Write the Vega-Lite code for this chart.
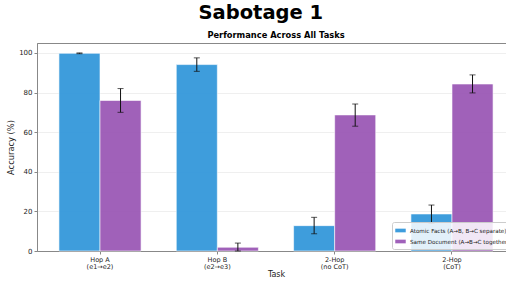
{
  "$schema": "https://vega.github.io/schema/vega-lite/v6.json",
  "background": "white",
  "padding": {"left": 6, "top": 2, "right": 0, "bottom": 2},
  "title": {"text": "Sabotage 1", "fontSize": 19.5, "fontWeight": "bold", "font": "DejaVu Sans", "color": "black", "anchor": "middle", "offset": 7},
  "resolve": {"legend": {"color": "independent"}},
  "vconcat": [
    {
      "width": 478,
      "height": 208,
      "title": {"text": "Performance Across All Tasks", "fontSize": 8.3, "fontWeight": "bold", "font": "DejaVu Sans", "color": "black", "offset": 4},
      "data": {
        "values": [
          {"task": "Hop A|(e1→e2)", "method": "Atomic Facts (A→B, B→C separate)", "acc": 99.8, "lo": 99.6, "hi": 100.0},
          {"task": "Hop A|(e1→e2)", "method": "Same Document (A→B→C together)", "acc": 76.0, "lo": 70.0, "hi": 82.0},
          {"task": "Hop B|(e2→e3)", "method": "Atomic Facts (A→B, B→C separate)", "acc": 94.1, "lo": 90.7, "hi": 97.5},
          {"task": "Hop B|(e2→e3)", "method": "Same Document (A→B→C together)", "acc": 1.9, "lo": 0.0, "hi": 4.0},
          {"task": "2-Hop|(no CoT)", "method": "Atomic Facts (A→B, B→C separate)", "acc": 12.8, "lo": 8.7, "hi": 17.0},
          {"task": "2-Hop|(no CoT)", "method": "Same Document (A→B→C together)", "acc": 68.7, "lo": 63.0, "hi": 74.2},
          {"task": "2-Hop|(CoT)", "method": "Atomic Facts (A→B, B→C separate)", "acc": 18.7, "lo": 14.0, "hi": 23.2},
          {"task": "2-Hop|(CoT)", "method": "Same Document (A→B→C together)", "acc": 84.3, "lo": 79.8, "hi": 88.9}
        ]
      },
      "encoding": {
        "x": {
          "field": "task", "type": "nominal", "sort": null,
          "scale": {"paddingInner": 0.3, "paddingOuter": 0.187},
          "axis": {"title": "Task", "labelAngle": 0, "labelExpr": "split(datum.label, '|')", "labelFontSize": 6.5, "labelLineHeight": 7, "titleFontSize": 8, "titleFontWeight": "normal", "titlePadding": 1, "labelPadding": 2}
        },
        "xOffset": {"field": "method", "type": "nominal", "sort": null, "scale": {"paddingInner": 0, "paddingOuter": 0}}
      },
      "layer": [
        {
          "mark": {"type": "bar", "stroke": "white", "strokeWidth": 0.6, "opacity": 0.95},
          "encoding": {
            "y": {"field": "acc", "type": "quantitative", "scale": {"domain": [0, 105], "nice": false}, "axis": {"title": "Accuracy (%)", "values": [0, 20, 40, 60, 80, 100], "labelFontSize": 7, "titleFontSize": 8.3, "titleFontWeight": "normal", "grid": true, "gridColor": "#e8e8e8", "gridWidth": 0.7, "titlePadding": 3}},
            "color": {
              "field": "method", "type": "nominal", "sort": null,
              "scale": {"domain": ["Atomic Facts (A→B, B→C separate)", "Same Document (A→B→C together)"], "range": ["#3498db", "#9b59b6"]},
              "legend": {"orient": "bottom-right", "title": null, "fillColor": "rgba(255,255,255,0.85)", "strokeColor": "#cccccc", "padding": 3, "labelFontSize": 5.6, "labelColor": "#222", "symbolType": "M-1,-0.35H1V0.35H-1Z", "symbolSize": 110, "symbolStrokeWidth": 0, "offset": 2, "rowPadding": 1, "cornerRadius": 2, "labelOffset": 4}
            }
          }
        },
        {
          "mark": {"type": "rule", "color": "#111", "strokeWidth": 1},
          "encoding": {"y": {"field": "lo", "type": "quantitative"}, "y2": {"field": "hi"}}
        },
        {
          "mark": {"type": "tick", "color": "#111", "thickness": 1, "size": 6},
          "encoding": {"y": {"field": "lo", "type": "quantitative"}}
        },
        {
          "mark": {"type": "tick", "color": "#111", "thickness": 1, "size": 6},
          "encoding": {"y": {"field": "hi", "type": "quantitative"}}
        }
      ]
    }
  ],
  "config": {
    "font": "DejaVu Sans",
    "view": {"stroke": "#888888", "strokeWidth": 1},
    "axis": {"domainColor": "#888888", "tickColor": "#888888", "tickSize": 3, "labelColor": "#222", "titleColor": "#222", "labelFont": "DejaVu Sans", "titleFont": "DejaVu Sans"},
    "axisX": {"grid": false},
    "legend": {"labelFont": "DejaVu Sans"}
  }
}
